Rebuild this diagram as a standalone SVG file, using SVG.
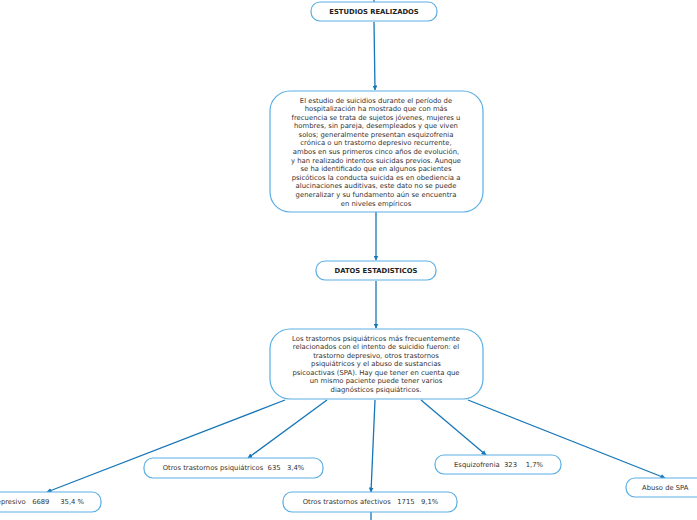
<svg xmlns="http://www.w3.org/2000/svg" width="697" height="520" viewBox="0 0 697 520">
<style>
.box{fill:#ffffff;stroke:#5aaee3;stroke-width:1.2}
.c{stroke:#1777b7;stroke-width:1.3;fill:none}
.t{font-family:"DejaVu Sans",Verdana,sans-serif;font-size:6.85px;fill:#333333;text-anchor:middle}
.h{font-family:"DejaVu Sans",Verdana,sans-serif;font-size:6.8px;font-weight:bold;fill:#222222;text-anchor:middle}
.l{font-family:"DejaVu Sans",Verdana,sans-serif;font-size:6.8px;fill:#333333;white-space:pre}
</style>
<defs>
<marker id="a" viewBox="0 0 10 10" refX="9" refY="5" markerWidth="5" markerHeight="5" orient="auto" markerUnits="userSpaceOnUse">
<path d="M0,0 L10,5 L0,10 z" fill="#1777b7"/>
</marker>
</defs>
<rect width="697" height="520" fill="#ffffff"/>
<g id="connectors">
<line class="c" x1="374" y1="0" x2="374" y2="2"/>
<line class="c" x1="374" y1="22" x2="375" y2="90" marker-end="url(#a)"/>
<line class="c" x1="376" y1="212" x2="376" y2="260" marker-end="url(#a)"/>
<line class="c" x1="376" y1="281" x2="376" y2="328" marker-end="url(#a)"/>
<line class="c" x1="285" y1="400" x2="47" y2="492" marker-end="url(#a)"/>
<line class="c" x1="327" y1="400" x2="248" y2="458" marker-end="url(#a)"/>
<line class="c" x1="375" y1="400" x2="371" y2="492" marker-end="url(#a)"/>
<line class="c" x1="421" y1="400" x2="486" y2="455" marker-end="url(#a)"/>
<line class="c" x1="468" y1="400" x2="665" y2="478" marker-end="url(#a)"/>
<line class="c" x1="371" y1="512" x2="371" y2="520"/>
</g>
<g id="n1">
<rect class="box" x="311" y="2" width="126" height="19" rx="9"/>
<text class="h" x="374" y="14.3">ESTUDIOS REALIZADOS</text>
</g>
<g id="n2">
<rect class="box" x="270" y="91" width="213" height="121" rx="20"/>
<text class="t" x="376" y="102.5">El estudio de suicidios durante el período de</text>
<text class="t" x="376" y="111.1">hospitalización ha mostrado que con más</text>
<text class="t" x="376" y="119.7">frecuencia se trata de sujetos jóvenes, mujeres u</text>
<text class="t" x="376" y="128.2">hombres, sin pareja, desempleados y que viven</text>
<text class="t" x="376" y="136.8">solos; generalmente presentan esquizofrenia</text>
<text class="t" x="376" y="145.4">crónica o un trastorno depresivo recurrente,</text>
<text class="t" x="376" y="154">ambos en sus primeros cinco años de evolución,</text>
<text class="t" x="376" y="162.6">y han realizado intentos suicidas previos. Aunque</text>
<text class="t" x="376" y="171.2">se ha identificado que en algunos pacientes</text>
<text class="t" x="376" y="179.7">psicóticos la conducta suicida es en obediencia a</text>
<text class="t" x="376" y="188.3">alucinaciones auditivas, este dato no se puede</text>
<text class="t" x="376" y="196.9">generalizar y su fundamento aún se encuentra</text>
<text class="t" x="376" y="205.5">en niveles empíricos</text>
</g>
<g id="n3">
<rect class="box" x="316" y="261" width="120" height="19" rx="9"/>
<text class="h" x="376" y="273.3">DATOS ESTADISTICOS</text>
</g>
<g id="n4">
<rect class="box" x="270" y="329" width="213" height="70" rx="20"/>
<text class="t" x="376" y="340.5">Los trastornos psiquiátricos más frecuentemente</text>
<text class="t" x="376" y="349">relacionados con el intento de suicidio fueron: el</text>
<text class="t" x="376" y="357.5">trastorno depresivo, otros trastornos</text>
<text class="t" x="376" y="366">psiquiátricos y el abuso de sustancias</text>
<text class="t" x="376" y="374.5">psicoactivas (SPA). Hay que tener en cuenta que</text>
<text class="t" x="376" y="383">un mismo paciente puede tener varios</text>
<text class="t" x="376" y="391.5">diagnósticos psiquiátricos.</text>
</g>
<g id="n5">
<rect class="box" x="-60" y="492" width="161" height="20" rx="9"/>
<text class="l" x="84" y="504.4" text-anchor="end">Trastorno depresivo   6689     35,4 %</text>
</g>
<g id="n6">
<rect class="box" x="144" y="458" width="179" height="20" rx="9"/>
<text class="l" x="233.5" y="470.4" text-anchor="middle">Otros trastornos psiquiátricos  635   3,4%</text>
</g>
<g id="n7">
<rect class="box" x="283" y="492" width="174" height="20" rx="9"/>
<text class="l" x="370.5" y="504.4" text-anchor="middle">Otros trastornos afectivos   1715   9,1%</text>
</g>
<g id="n8">
<rect class="box" x="435" y="455" width="126" height="19" rx="9"/>
<text class="l" x="498.5" y="467" text-anchor="middle">Esquizofrenia  323    1,7%</text>
</g>
<g id="n9">
<rect class="box" x="626" y="478" width="90" height="19" rx="9"/>
<text class="l" x="642" y="490.4">Abuso de SPA</text>
</g>
</svg>
